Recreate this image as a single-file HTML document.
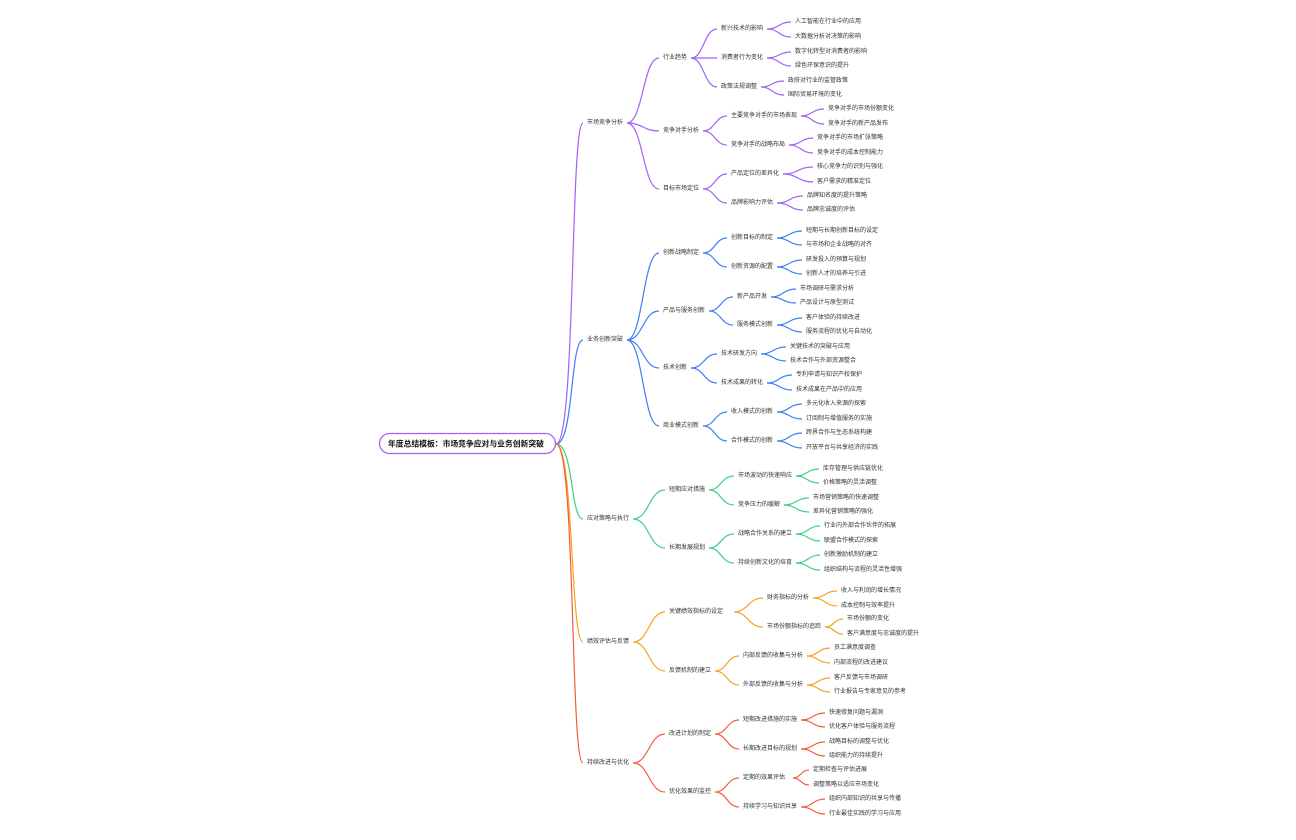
<!DOCTYPE html>
<html><head><meta charset="utf-8"><style>
html,body{margin:0;padding:0;background:#fff;width:1296px;height:840px;overflow:hidden}
svg{display:block}
text{font-family:"Liberation Sans","Noto Sans CJK SC",sans-serif;font-size:6px;fill:#333;dominant-baseline:central}
path{fill:none;stroke-width:1.2}
.p path{stroke:#a260f5}.b path{stroke:#3d7ef5}.g path{stroke:#3ccf86}.o path{stroke:#f5a21e}.r path{stroke:#f55b3a}
</style></head><body>
<svg width="1296" height="840" viewBox="0 0 1296 840">
<!-- root links -->
<g class="p"><path d="M556 444 C576 444,570 123,583 123"/></g>
<g class="b"><path d="M556 444 C574 444,570 340,583 340"/></g>
<g class="g"><path d="M556 444 C574 444,570 519,583 519"/></g>
<g class="o"><path d="M556 444 C574 444,570 642,583 642"/></g>
<g class="r"><path d="M556 444 C576 444,570 763,583 763"/></g>
<rect x="379.5" y="433.5" width="176" height="20" rx="10" fill="#fff" stroke="#a260f5" stroke-width="1.3"/>
<text x="388" y="444" style="font-size:7.8px;font-weight:bold;fill:#111">年度总结模板：市场竞争应对与业务创新突破</text>

<!-- purple -->
<g class="p">
<path d="M627 123 C643 123,643 58,659 58"/><path d="M627 123 C643 123,643 131,659 131"/><path d="M627 123 C643 123,643 189,659 189"/>
<path d="M691 58 C704 58,704 29,717 29"/><path d="M691 58 C704 58,704 58,717 58"/><path d="M691 58 C704 58,704 87,717 87"/>
<path d="M767 29 C779 29,779 22,791 22"/><path d="M767 29 C779 29,779 37,791 37"/>
<path d="M767 58 C779 58,779 52,791 52"/><path d="M767 58 C779 58,779 66,791 66"/>
<path d="M761 87 C772 87,772 81,784 81"/><path d="M761 87 C772 87,772 95,784 95"/>
<path d="M703 131 C715 131,715 116,727 116"/><path d="M703 131 C715 131,715 145,727 145"/>
<path d="M801 116 C812 116,812 109,824 109"/><path d="M801 116 C812 116,812 124,824 124"/>
<path d="M789 145 C801 145,801 138,813 138"/><path d="M789 145 C801 145,801 153,813 153"/>
<path d="M703 189 C715 189,715 174,727 174"/><path d="M703 189 C715 189,715 203,727 203"/>
<path d="M783 174 C798 174,798 167,813 167"/><path d="M783 174 C798 174,798 182,813 182"/>
<path d="M777 203 C790 203,790 196,803 196"/><path d="M777 203 C790 203,790 210,803 210"/>
</g>
<text x="587" y="123">市场竞争分析</text>
<text x="663" y="58">行业趋势</text><text x="663" y="131">竞争对手分析</text><text x="663" y="189">目标市场定位</text>
<text x="721" y="29">新兴技术的影响</text><text x="721" y="58">消费者行为变化</text><text x="721" y="87">政策法规调整</text>
<text x="731" y="116">主要竞争对手的市场表现</text><text x="731" y="145">竞争对手的战略布局</text>
<text x="731" y="174">产品定位的差异化</text><text x="731" y="203">品牌影响力评估</text>
<text x="795" y="22">人工智能在行业中的应用</text><text x="795" y="37">大数据分析对决策的影响</text>
<text x="795" y="52">数字化转型对消费者的影响</text><text x="795" y="66">绿色环保意识的提升</text>
<text x="788" y="81">政府对行业的监管政策</text><text x="788" y="95">国际贸易环境的变化</text>
<text x="828" y="109">竞争对手的市场份额变化</text><text x="828" y="124">竞争对手的新产品发布</text>
<text x="817" y="138">竞争对手的市场扩张策略</text><text x="817" y="153">竞争对手的成本控制能力</text>
<text x="817" y="167">核心竞争力的识别与强化</text><text x="817" y="182">客户需求的精准定位</text>
<text x="807" y="196">品牌知名度的提升策略</text><text x="807" y="210">品牌忠诚度的评估</text>

<!-- blue -->
<g class="b">
<path d="M627 340 C643 340,643 253,659 253"/><path d="M627 340 C643 340,643 311,659 311"/><path d="M627 340 C643 340,643 368,659 368"/><path d="M627 340 C643 340,643 426,659 426"/>
<path d="M703 253 C715 253,715 238,727 238"/><path d="M703 253 C715 253,715 267,727 267"/>
<path d="M777 238 C789 238,789 231,802 231"/><path d="M777 238 C789 238,789 245,802 245"/>
<path d="M777 267 C789 267,789 260,802 260"/><path d="M777 267 C789 267,789 274,802 274"/>
<path d="M709 311 C721 311,721 297,733 297"/><path d="M709 311 C721 311,721 325,733 325"/>
<path d="M771 297 C783 297,783 289,796 289"/><path d="M771 297 C783 297,783 303,796 303"/>
<path d="M777 325 C789 325,789 318,802 318"/><path d="M777 325 C789 325,789 332,802 332"/>
<path d="M691 368 C704 368,704 354,717 354"/><path d="M691 368 C704 368,704 383,717 383"/>
<path d="M761 354 C773 354,773 347,786 347"/><path d="M761 354 C773 354,773 361,786 361"/>
<path d="M767 383 C779 383,779 375,792 375"/><path d="M767 383 C779 383,779 390,792 390"/>
<path d="M703 426 C715 426,715 412,727 412"/><path d="M703 426 C715 426,715 441,727 441"/>
<path d="M777 412 C789 412,789 404,802 404"/><path d="M777 412 C789 412,789 419,802 419"/>
<path d="M777 441 C789 441,789 433,802 433"/><path d="M777 441 C789 441,789 448,802 448"/>
</g>
<text x="587" y="340">业务创新突破</text>
<text x="663" y="253">创新战略制定</text><text x="663" y="311">产品与服务创新</text><text x="663" y="368">技术创新</text><text x="663" y="426">商业模式创新</text>
<text x="731" y="238">创新目标的制定</text><text x="731" y="267">创新资源的配置</text>
<text x="737" y="297">新产品开发</text><text x="737" y="325">服务模式创新</text>
<text x="721" y="354">技术研发方向</text><text x="721" y="383">技术成果的转化</text>
<text x="731" y="412">收入模式的创新</text><text x="731" y="441">合作模式的创新</text>
<text x="806" y="231">短期与长期创新目标的设定</text><text x="806" y="245">与市场和企业战略的对齐</text>
<text x="806" y="260">研发投入的预算与规划</text><text x="806" y="274">创新人才的培养与引进</text>
<text x="800" y="289">市场调研与需求分析</text><text x="800" y="303">产品设计与原型测试</text>
<text x="806" y="318">客户体验的持续改进</text><text x="806" y="332">服务流程的优化与自动化</text>
<text x="790" y="347">关键技术的突破与应用</text><text x="790" y="361">技术合作与外部资源整合</text>
<text x="796" y="375">专利申请与知识产权保护</text><text x="796" y="390">技术成果在产品中的应用</text>
<text x="806" y="404">多元化收入来源的探索</text><text x="806" y="419">订阅制与增值服务的实施</text>
<text x="806" y="433">跨界合作与生态系统构建</text><text x="806" y="448">开放平台与共享经济的实践</text>

<!-- green -->
<g class="g">
<path d="M633 519 C649 519,649 490,665 490"/><path d="M633 519 C649 519,649 548,665 548"/>
<path d="M709 490 C721 490,721 476,734 476"/><path d="M709 490 C721 490,721 505,734 505"/>
<path d="M796 476 C807 476,807 469,819 469"/><path d="M796 476 C807 476,807 483,819 483"/>
<path d="M784 505 C796 505,796 498,809 498"/><path d="M784 505 C796 505,796 512,809 512"/>
<path d="M709 548 C721 548,721 534,734 534"/><path d="M709 548 C721 548,721 563,734 563"/>
<path d="M796 534 C808 534,808 526,820 526"/><path d="M796 534 C808 534,808 541,820 541"/>
<path d="M796 563 C808 563,808 555,820 555"/><path d="M796 563 C808 563,808 570,820 570"/>
</g>
<text x="587" y="519">应对策略与执行</text>
<text x="669" y="490">短期应对措施</text><text x="669" y="548">长期发展规划</text>
<text x="738" y="476">市场波动的快速响应</text><text x="738" y="505">竞争压力的缓解</text>
<text x="738" y="534">战略合作关系的建立</text><text x="738" y="563">持续创新文化的培育</text>
<text x="823" y="469">库存管理与供应链优化</text><text x="823" y="483">价格策略的灵活调整</text>
<text x="813" y="498">市场营销策略的快速调整</text><text x="813" y="512">差异化营销策略的强化</text>
<text x="824" y="526">行业内外部合作伙伴的拓展</text><text x="824" y="541">联盟合作模式的探索</text>
<text x="824" y="555">创新激励机制的建立</text><text x="824" y="570">组织结构与流程的灵活性增强</text>

<!-- orange -->
<g class="o">
<path d="M633 642 C649 642,649 612,665 612"/><path d="M633 642 C649 642,649 671,665 671"/>
<path d="M734 612 C748 612,748 598,763 598"/><path d="M734 612 C748 612,748 627,763 627"/>
<path d="M813 598 C825 598,825 591,837 591"/><path d="M813 598 C825 598,825 606,837 606"/>
<path d="M825 627 C834 627,834 619,843 619"/><path d="M825 627 C834 627,834 634,843 634"/>
<path d="M715 671 C727 671,727 656,739 656"/><path d="M715 671 C727 671,727 685,739 685"/>
<path d="M807 656 C818 656,818 648,830 648"/><path d="M807 656 C818 656,818 663,830 663"/>
<path d="M807 685 C818 685,818 678,830 678"/><path d="M807 685 C818 685,818 692,830 692"/>
</g>
<text x="587" y="642">绩效评估与反馈</text>
<text x="669" y="612">关键绩效指标的设定</text><text x="669" y="671">反馈机制的建立</text>
<text x="767" y="598">财务指标的分析</text><text x="767" y="627">市场份额指标的追踪</text>
<text x="743" y="656">内部反馈的收集与分析</text><text x="743" y="685">外部反馈的收集与分析</text>
<text x="841" y="591">收入与利润的增长情况</text><text x="841" y="606">成本控制与效率提升</text>
<text x="847" y="619">市场份额的变化</text><text x="847" y="634">客户满意度与忠诚度的提升</text>
<text x="834" y="648">员工满意度调查</text><text x="834" y="663">内部流程的改进建议</text>
<text x="834" y="678">客户反馈与市场调研</text><text x="834" y="692">行业报告与专家意见的参考</text>

<!-- red -->
<g class="r">
<path d="M633 763 C649 763,649 734,665 734"/><path d="M633 763 C649 763,649 792,665 792"/>
<path d="M715 734 C727 734,727 720,739 720"/><path d="M715 734 C727 734,727 749,739 749"/>
<path d="M801 720 C813 720,813 713,825 713"/><path d="M801 720 C813 720,813 727,825 727"/>
<path d="M801 749 C813 749,813 742,825 742"/><path d="M801 749 C813 749,813 756,825 756"/>
<path d="M715 792 C727 792,727 778,739 778"/><path d="M715 792 C727 792,727 807,739 807"/>
<path d="M793 778 C801 778,801 770,809 770"/><path d="M793 778 C801 778,801 785,809 785"/>
<path d="M801 807 C813 807,813 799,825 799"/><path d="M801 807 C813 807,813 814,825 814"/>
</g>
<text x="587" y="763">持续改进与优化</text>
<text x="669" y="734">改进计划的制定</text><text x="669" y="792">优化效果的监控</text>
<text x="743" y="720">短期改进措施的实施</text><text x="743" y="749">长期改进目标的规划</text>
<text x="743" y="778">定期的效果评估</text><text x="743" y="807">持续学习与知识共享</text>
<text x="829" y="713">快速修复问题与漏洞</text><text x="829" y="727">优化客户体验与服务流程</text>
<text x="829" y="742">战略目标的调整与优化</text><text x="829" y="756">组织能力的持续提升</text>
<text x="813" y="770">定期检查与评估进展</text><text x="813" y="785">调整策略以适应市场变化</text>
<text x="829" y="799">组织内部知识的共享与传播</text><text x="829" y="814">行业最佳实践的学习与应用</text>
</svg>
</body></html>
